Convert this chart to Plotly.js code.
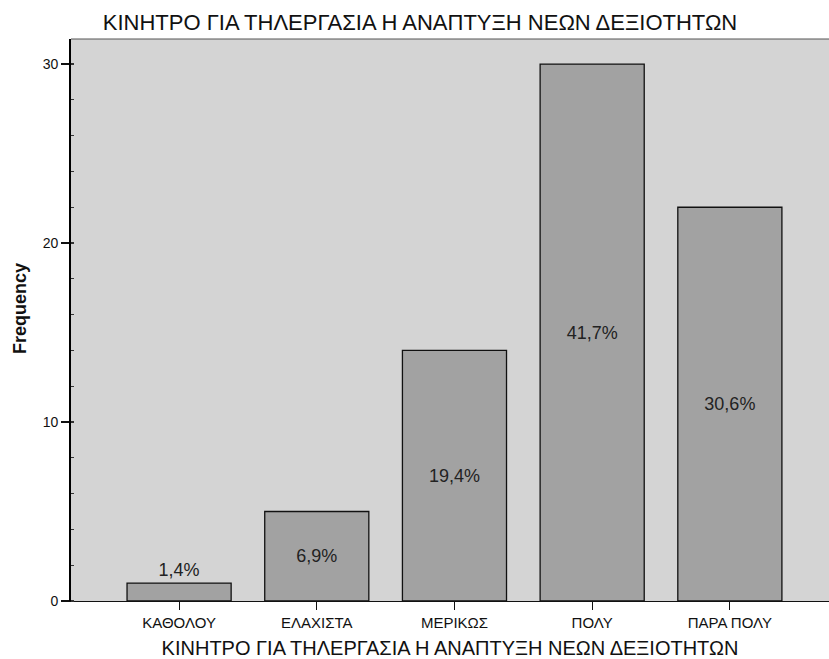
<!DOCTYPE html>
<html>
<head>
<meta charset="utf-8">
<script src="https://cdn.plot.ly/plotly-3.0.1.min.js"></script>
<style>
html,body{margin:0;padding:0;background:#fff;overflow:hidden;}
#chart{width:829px;height:659px;}
</style>
</head>
<body>
<div id="chart"></div>
<script>
var categories = ['ΚΑΘΟΛΟΥ', 'ΕΛΑΧΙΣΤΑ', 'ΜΕΡΙΚΩΣ', 'ΠΟΛΥ', 'ΠΑΡΑ ΠΟΛΥ'];
var frequencies = [1, 5, 14, 30, 22];
var percentLabels = ['1,4%', '6,9%', '19,4%', '41,7%', '30,6%'];
var yTicks = [0, 10, 20, 30];
var titleText = 'ΚΙΝΗΤΡΟ ΓΙΑ ΤΗΛΕΡΓΑΣΙΑ Η ΑΝΑΠΤΥΞΗ ΝΕΩΝ ΔΕΞΙΟΤΗΤΩΝ';
var yTitle = 'Frequency';

var font = 'Liberation Sans, Arial, sans-serif';

var trace = {
  type: 'bar',
  x: categories,
  y: frequencies,
  text: percentLabels,
  textposition: ['outside', 'inside', 'inside', 'inside', 'inside'],
  insidetextanchor: 'middle',
  constraintext: 'none',
  cliponaxis: false,
  textfont: {family: font, size: 18, color: '#222'},
  width: 0.756,
  marker: {color: '#a2a2a2', line: {color: '#111', width: 1.3}},
  hoverinfo: 'none'
};

var layout = {
  width: 829,
  height: 659,
  margin: {l: 71, r: 0, t: 39, b: 58},
  paper_bgcolor: '#ffffff',
  plot_bgcolor: '#d4d4d4',
  showlegend: false,
  title: {
    text: titleText,
    font: {family: font, size: 22, color: '#111'},
    x: 420/829, xref: 'container', xanchor: 'center',
    y: 1 - 22/659, yref: 'container', yanchor: 'middle'
  },
  xaxis: {
    type: 'category',
    range: [-0.785, 4.72],
    showline: true, linecolor: '#111', linewidth: 1.3,
    ticks: 'outside', ticklen: 8, tickcolor: '#111', tickwidth: 1,
    tickfont: {family: font, size: 15, color: '#111'},
    showgrid: false, zeroline: false,
    title: {text: titleText, font: {family: font, size: 20, color: '#111'}, standoff: 16}
  },
  yaxis: {
    range: [0, 31.4],
    tickvals: yTicks,
    showline: true, linecolor: '#000', linewidth: 1.8,
    ticks: 'outside', ticklen: 8, tickcolor: '#111', tickwidth: 1.2,
    tickfont: {family: font, size: 14, color: '#111'},
    minor: {dtick: 2, ticks: 'inside', ticklen: 3, tickcolor: '#333', showgrid: false},
    showgrid: false, zeroline: false
  },
  shapes: [{
    type: 'line', xref: 'paper', yref: 'paper', x0: 0, x1: 1, y0: 1, y1: 1,
    line: {color: '#555', width: 1}
  }],
  annotations: [{
    text: yTitle, textangle: -90, showarrow: false,
    xref: 'paper', yref: 'paper', x: (20 - 71) / 758, y: (601 - 308) / 562,
    xanchor: 'center', yanchor: 'middle',
    font: {family: font, size: 18, color: '#111', weight: 'bold'}
  }]
};

Plotly.newPlot('chart', [trace], layout, {displayModeBar: false, staticPlot: true});
</script>
</body>
</html>
